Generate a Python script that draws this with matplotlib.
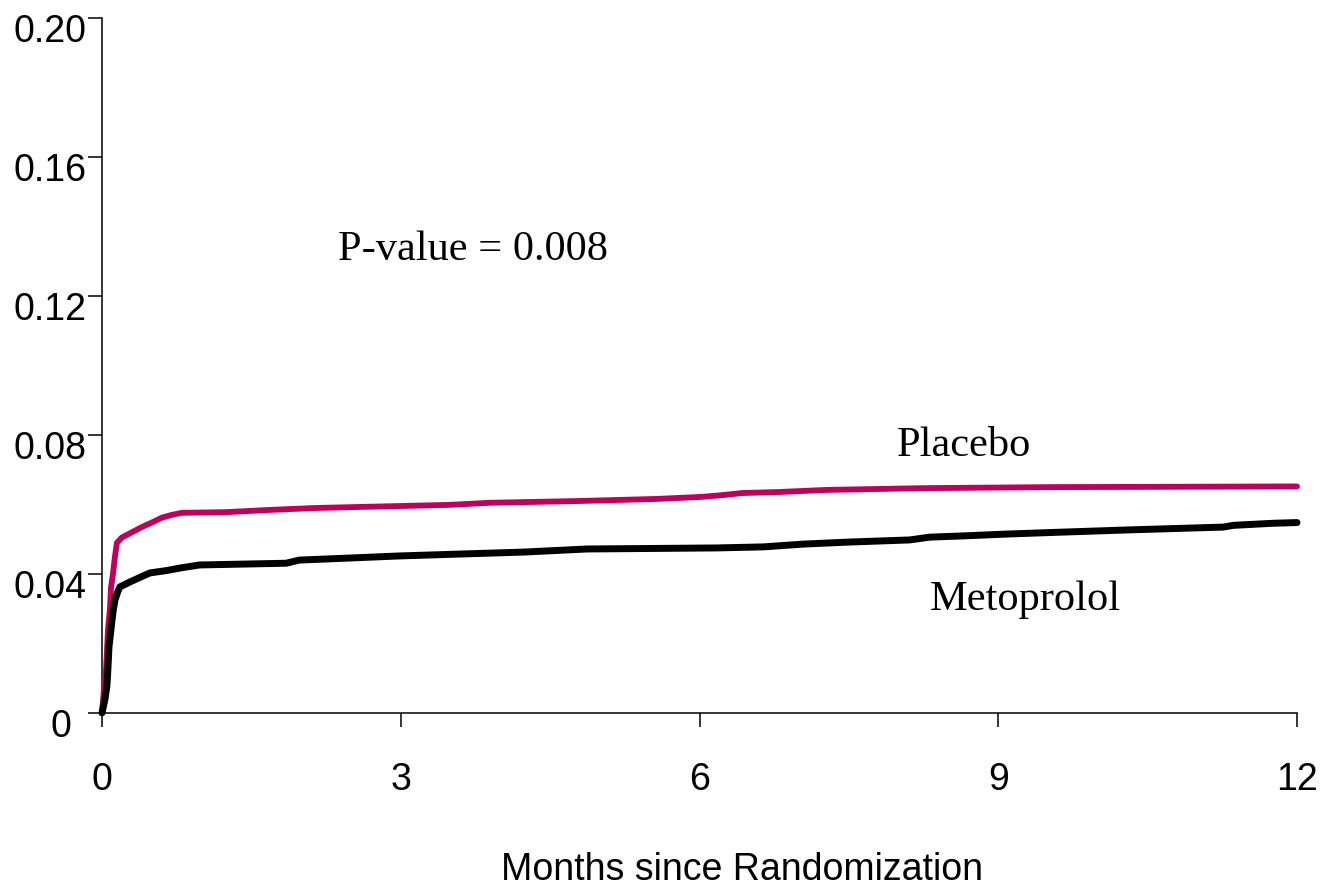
import matplotlib
matplotlib.use("Agg")
import matplotlib.pyplot as plt
import matplotlib.transforms as mtransforms

# Kaplan-Meier style cumulative event data (months, cumulative incidence)
placebo_t = [0, 0.02, 0.04, 0.05, 0.06, 0.08, 0.09, 0.11, 0.13, 0.15, 0.2, 0.3, 0.4, 0.5,
             0.6, 0.7, 0.8, 1.25, 1.65, 2.15, 3.5, 3.9, 4.78, 5.57, 6.03, 6.23, 6.43,
             6.8, 7.28, 8.24, 9.52, 12.0]
placebo_v = [0, 0.007, 0.012, 0.018, 0.024, 0.030, 0.036, 0.040, 0.045, 0.049, 0.0505,
             0.052, 0.0535, 0.0548, 0.0562, 0.057, 0.0576, 0.0578, 0.0584, 0.059, 0.0599,
             0.0605, 0.061, 0.0616, 0.0622, 0.0627, 0.0633, 0.0636, 0.0642, 0.0647,
             0.065, 0.0652]

meto_t = [0, 0.03, 0.05, 0.06, 0.07, 0.09, 0.11, 0.13, 0.16, 0.18, 0.28, 0.38, 0.48, 0.65,
          0.78, 0.98, 1.85, 1.98, 2.49, 2.99, 3.66, 4.23, 4.87, 6.17, 6.64, 7.04, 7.51,
          8.11, 8.31, 8.68, 9.09, 9.59, 10.32, 11.26, 11.36, 11.76, 12.0]
meto_v = [0, 0.004, 0.008, 0.013, 0.019, 0.024, 0.029, 0.0325, 0.035, 0.0363, 0.0377,
          0.039, 0.0403, 0.041, 0.0417, 0.0426, 0.0431, 0.044, 0.0446, 0.0452, 0.0458,
          0.0463, 0.0472, 0.0475, 0.0478, 0.0486, 0.0492, 0.0498, 0.0506, 0.051, 0.0515,
          0.052, 0.0527, 0.0535, 0.054, 0.0546, 0.0548]

x_ticks = [0, 3, 6, 9, 12]
x_labels = ["0", "3", "6", "9", "12"]
y_ticks = [0, 0.04, 0.08, 0.12, 0.16, 0.20]
y_labels = ["0", "0.04", "0.08", "0.12", "0.16", "0.20"]

W, H = 1328, 886
fig = plt.figure(figsize=(W / 100, H / 100), dpi=100)
ax = fig.add_axes([102 / W, 1 - 713 / H, (1297 - 102) / W, (713 - 18) / H])

ax.plot(placebo_t, placebo_v, color="#C0005C", lw=4.2,
        solid_capstyle="round", solid_joinstyle="round", clip_on=False, zorder=3)
ax.plot(meto_t, meto_v, color="black", lw=5.0,
        solid_capstyle="round", solid_joinstyle="round", clip_on=False, zorder=4)

ax.set_xlim(0, 12)
ax.set_ylim(0, 0.20)
for s in ["top", "right"]:
    ax.spines[s].set_visible(False)
for s in ["left", "bottom"]:
    ax.spines[s].set_linewidth(1.1)

sans = ["Liberation Sans", "DejaVu Sans"]
serif = ["Liberation Serif", "DejaVu Serif"]

ax.set_xticks(x_ticks)
ax.set_xticklabels(x_labels, family=sans, fontsize=27)
ax.set_yticks(y_ticks)
ax.set_yticklabels(y_labels, family=sans, fontsize=27)
ax.tick_params(axis="x", direction="out", length=10, width=1.1, pad=25)
ax.tick_params(axis="y", direction="out", length=10, width=1.1, pad=1)

# shift y tick labels slightly downward as in the reference
for lab in ax.get_yticklabels():
    dx = -15 / 100 if lab.get_text() == "0" else 0
    off = mtransforms.ScaledTranslation(dx, -10 / 100, fig.dpi_scale_trans)
    lab.set_transform(lab.get_transform() + off)

ax.text(338 / W, 1 - 250 / H, "P-value = 0.008", transform=fig.transFigure,
        family=serif, fontsize=30.5, ha="left", va="center")
ax.text(897 / W, 1 - 446 / H, "Placebo", transform=fig.transFigure,
        family=serif, fontsize=30.5, ha="left", va="center")
ax.text(930 / W, 1 - 600 / H, "Metoprolol", transform=fig.transFigure,
        family=serif, fontsize=30.5, ha="left", va="center")

fig.text(742 / W, 1 - 870 / H, "Months since Randomization", family=sans,
         fontsize=27, ha="center", va="center")

fig.savefig("out.png", dpi=100)
